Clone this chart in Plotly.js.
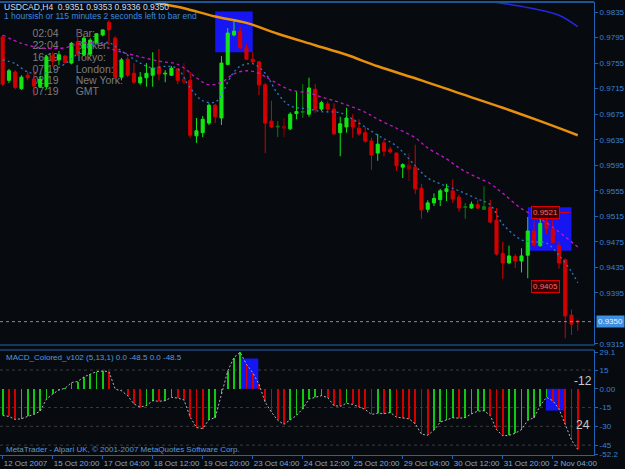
<!DOCTYPE html>
<html><head><meta charset="utf-8">
<script src="https://cdn.plot.ly/plotly-3.0.1.min.js"></script>
<style>html,body{margin:0;padding:0;background:#070b10;}#chart{width:625px;height:469px;}</style>
</head><body><div id="chart"></div>
<script>
// ---- candle data (USDCAD H4), bar index 0 = 12 Oct 2007 ----
const openP  = [0.9796,0.9728,0.9741,0.9715,0.9736,0.9730,0.9718,0.9718,0.9766,0.9760,0.9766,0.9755,0.9788,0.9768,0.9769,0.9786,0.9799,0.9819,0.9794,0.9733,
0.9761,0.9739,0.9724,0.9732,0.9736,0.9749,0.9738,0.9736,0.9746,0.9730,0.9728,0.9641,0.9646,0.9661,0.9689,0.9669,0.9753,0.9799,0.9805,0.9779,
0.9761,0.9757,0.9721,0.9664,0.9655,0.9656,0.9652,0.9676,0.9678,0.9675,0.9714,0.9683,0.9691,0.9683,0.9646,0.9655,0.9667,0.9653,0.9646,0.9633,
0.9614,0.9630,0.9620,0.9614,0.9592,0.9595,0.9592,0.9559,0.9526,0.9536,0.9541,0.9554,0.9555,0.9545,0.9529,0.9528,0.9533,0.9526,0.9529,0.9509,
0.9457,0.9442,0.9452,0.9445,0.9454,0.9492,0.9469,0.9506,0.9495,0.9469,0.9447,0.9360,0.9351];
const highP  = [0.9799,0.9746,0.9744,0.9736,0.9742,0.9744,0.9735,0.9768,0.9772,0.9774,0.9768,0.9788,0.9807,0.9797,0.9794,0.9802,0.9808,0.9822,0.9797,0.9763,
0.9765,0.9755,0.9741,0.9755,0.9772,0.9777,0.9744,0.9750,0.9747,0.9755,0.9741,0.9669,0.9672,0.9692,0.9691,0.9766,0.9810,0.9821,0.9812,0.9785,
0.9772,0.9758,0.9724,0.9696,0.9664,0.9669,0.9678,0.9710,0.9722,0.9732,0.9722,0.9696,0.9695,0.9692,0.9671,0.9685,0.9675,0.9667,0.9655,0.9638,
0.9644,0.9635,0.9624,0.9615,0.9598,0.9614,0.9627,0.9566,0.9540,0.9551,0.9558,0.9566,0.9573,0.9549,0.9536,0.9538,0.9541,0.9562,0.9541,0.9528,
0.9475,0.9469,0.9456,0.9465,0.9514,0.9508,0.9521,0.9513,0.9509,0.9475,0.9449,0.9369,0.9353];
const lowP   = [0.9719,0.9724,0.9714,0.9713,0.9728,0.9703,0.9716,0.9714,0.9750,0.9752,0.9755,0.9753,0.9766,0.9766,0.9766,0.9785,0.9797,0.9783,0.9732,0.9728,
0.9733,0.9722,0.9721,0.9718,0.9718,0.9728,0.9725,0.9735,0.9722,0.9722,0.9638,0.9630,0.9639,0.9658,0.9661,0.9658,0.9752,0.9797,0.9777,0.9760,
0.9755,0.9705,0.9614,0.9653,0.9639,0.9639,0.9650,0.9667,0.9669,0.9671,0.9677,0.9680,0.9678,0.9643,0.9609,0.9646,0.9638,0.9641,0.9630,0.9588,
0.9602,0.9609,0.9613,0.9586,0.9575,0.9570,0.9550,0.9511,0.9521,0.9531,0.9531,0.9539,0.9536,0.9522,0.9511,0.9527,0.9526,0.9525,0.9504,0.9454,
0.9417,0.9440,0.9434,0.9427,0.9418,0.9467,0.9467,0.9487,0.9473,0.9433,0.9324,0.9329,0.9336];
const closeP = [0.9722,0.9743,0.9717,0.9733,0.9732,0.9719,0.9730,0.9765,0.9758,0.9768,0.9756,0.9786,0.9769,0.9794,0.9791,0.9801,0.9807,0.9807,0.9733,0.9760,
0.9736,0.9725,0.9733,0.9739,0.9747,0.9738,0.9739,0.9747,0.9728,0.9725,0.9642,0.9649,0.9667,0.9689,0.9671,0.9755,0.9802,0.9805,0.9779,0.9761,
0.9757,0.9721,0.9661,0.9655,0.9656,0.9653,0.9675,0.9679,0.9679,0.9716,0.9682,0.9693,0.9683,0.9644,0.9660,0.9669,0.9655,0.9644,0.9633,0.9611,
0.9628,0.9617,0.9616,0.9594,0.9596,0.9589,0.9558,0.9525,0.9536,0.9543,0.9555,0.9558,0.9542,0.9528,0.9530,0.9534,0.9528,0.9530,0.9506,0.9456,
0.9442,0.9453,0.9445,0.9453,0.9492,0.9470,0.9504,0.9496,0.9474,0.9442,0.9359,0.9346,0.9350];
const dimBars = [29,44,45,48,65,74,77];

// ---- moving averages (bar index, price) ----
const fastMAIdx = [0,2,4,6,8,10,13,15,17,19,22,24,26,28,30,32,34,35,36,37,38,40,42,44,46,49,51,54,57,60,63,66,68,70,73,76,78,80,83,85,87,89,91,92];
const fastMAVal = [0.9760,0.9754,0.9741,0.9738,0.9743,0.9754,0.9777,0.9785,0.9787,0.9774,0.9755,0.9747,0.9750,0.9746,0.9716,0.9696,0.9694,0.9705,0.9725,0.9741,0.9750,0.9754,0.9739,0.9707,0.9688,0.9683,0.9679,0.9677,0.9661,0.9642,0.9625,0.9594,0.9575,0.9566,0.9555,0.9542,0.9533,0.9503,0.9478,0.9475,0.9473,0.9454,0.9428,0.9411];
const slowMAIdx = [0,3,6,10,12,15,18,22,25,28,31,33,35,37,39,41,43,46,49,51,54,58,60,63,66,68,71,73,75,78,80,83,86,88,92];
const slowMAVal = [0.9799,0.9786,0.9779,0.9779,0.9785,0.9786,0.9775,0.9765,0.9758,0.9753,0.9732,0.9721,0.9725,0.9738,0.9743,0.9739,0.9728,0.9713,0.9708,0.9702,0.9693,0.9678,0.9667,0.9653,0.9638,0.9622,0.9605,0.9591,0.9580,0.9566,0.9551,0.9527,0.9511,0.9498,0.9467];
const longMAIdx = [22,24,29,34,39,44,50,55,60,67,73,80,86,92];
const longMAVal = [0.9857,0.9851,0.9841,0.9828,0.9818,0.9801,0.9783,0.9768,0.9750,0.9728,0.9708,0.9685,0.9664,0.9642];
const topMAIdx = [75,77,81,85,89,92];
const topMAVal = [0.9858,0.9853,0.9847,0.9840,0.9830,0.9812];

// ---- MACD_Colored (5,13,1) histogram ----
const macdHist = [-21.3,-22.1,-24.5,-23.9,-22.1,-20.5,-17.9,-8.2,-4.2,-1.0,0.5,5.0,5.8,9.5,11.6,13.7,14.2,13.7,-0.3,-1.6,
-5.5,-12.1,-14.7,-13.4,-9.5,-10.0,-9.5,-6.8,-7.4,-8.9,-22.6,-31.0,-31.8,-24.7,-23.0,-4.2,14.2,25.0,29.1,19.5,
12.9,3.7,-10.8,-18.7,-25.2,-28.4,-24.7,-21.3,-16.0,-8.2,-6.8,-5.5,-7.0,-13.4,-14.0,-11.6,-12.5,-14.7,-16.5,-20.5,
-19.5,-19.8,-19.0,-22.6,-23.1,-24.0,-27.9,-36.3,-37.1,-33.1,-26.6,-24.7,-23.1,-23.5,-23.0,-20.0,-17.9,-17.5,-21.3,-32.6,
-37.6,-37.2,-35.5,-32.6,-25.2,-23.1,-13.4,-6.8,-9.5,-16.0,-27.9,-41.0,-48.5];
const macdLevels = [15,-15,-30,-45];
const macdNotes = [{text:'-12', v:6.3},{text:'24', v:-29.2}];

// ---- highlighted zones ----
const mainZones = [{x0:34,x1:40,y0:0.9772,y1:0.9836},{x0:84,x1:91,y0:0.9461,y1:0.9529}];
const macdZones = [{x0:38.1,x1:40.9,y0:0,y1:24.2},{x0:86.9,x1:90,y0:-17.4,y1:0}];
const priceMarks = [0.9521,0.9405];

// ---- axes ----
const tickIdx = [0,8,16,24,32,40,48,56,64,72,80,88];
const tickLabels = ['12 Oct 2007','15 Oct 20:00','17 Oct 04:00','18 Oct 12:00','19 Oct 20:00','23 Oct 04:00','24 Oct 12:00','25 Oct 20:00','29 Oct 04:00','30 Oct 12:00','31 Oct 20:00','2 Nov 04:00'];
const priceTicks = [0.9835,0.9795,0.9755,0.9715,0.9675,0.9635,0.9595,0.9555,0.9515,0.9475,0.9435,0.9395,0.9315];
const macdTicks = [29.1,15,0,-15,-30,-45,-52.2];
const macdTickLabels = ['29.1','15','0.00','-15','-30','-45','-52.2'];
const clockTimes = ['02:04','22:04','16:19','07:19','02:19','07:19'];
const clockNames = ['Bar:','Broker:','Tokyo:','London:','New York:','GMT'];

// ---------------------------------------------------------------
const n = openP.length;
const idx = openP.map((_, i) => i);
const isDim = i => dimBars.indexOf(i) >= 0;
function pick(arr, f){ return arr.filter((_, i) => f(i)); }

const GREEN = '#14e614', RED = '#d40000';
const candle = (f, up, dn) => ({
  type:'candlestick', xaxis:'x', yaxis:'y',
  x: pick(idx,f), open: pick(openP,f), high: pick(highP,f), low: pick(lowP,f), close: pick(closeP,f),
  increasing:{line:{color:up,width:1}, fillcolor:up},
  decreasing:{line:{color:dn,width:1}, fillcolor:dn},
  whiskerwidth:0, hoverinfo:'skip'
});

const macdColors = macdHist.map((v, i) => (i === 0 || v >= macdHist[i-1]) ? '#10c810' : '#d40000');

const traces = [
  candle(i => !isDim(i), GREEN, RED),
  candle(i => isDim(i), '#0a7d0a', '#8c0000'),
  {type:'scatter', mode:'lines', x:longMAIdx, y:longMAVal, line:{color:'#e8900c', width:2.5, shape:'spline'}, hoverinfo:'skip'},
  {type:'scatter', mode:'lines', x:topMAIdx, y:topMAVal, line:{color:'#2626dc', width:1.5, shape:'spline'}, hoverinfo:'skip'},
  {type:'scatter', mode:'lines', x:slowMAIdx, y:slowMAVal, line:{color:'#c414c4', width:1.3, dash:'3px,3px', shape:'spline'}, hoverinfo:'skip'},
  {type:'scatter', mode:'lines', x:fastMAIdx, y:fastMAVal, line:{color:'#2f78c8', width:1.3, dash:'2px,3px', shape:'spline'}, hoverinfo:'skip'},
  {type:'bar', x:idx, y:macdHist, xaxis:'x2', yaxis:'y2', width:0.26, marker:{color:macdColors, line:{width:0}}, hoverinfo:'skip'},
  {type:'scatter', mode:'lines', x:idx, y:macdHist, xaxis:'x2', yaxis:'y2', line:{color:'#b4b4b4', width:1, dash:'2px,2px'}, hoverinfo:'skip'}
];

// plot area: top 2px, bottom 455px, height 453
const py = ypx => (455 - ypx) / 453;
const px = xpx => xpx / 594;
const AX = '#2062b4', TXT = '#3d80d2', FONT = 'Liberation Sans, Arial, sans-serif';

const shapes = [];
mainZones.forEach(z => shapes.push({type:'rect', xref:'x', yref:'y', x0:z.x0, x1:z.x1, y0:z.y0, y1:z.y1, fillcolor:'#1616f2', line:{width:0}, layer:'below'}));
macdZones.forEach(z => shapes.push({type:'rect', xref:'x2', yref:'y2', x0:z.x0, x1:z.x1, y0:z.y0, y1:z.y1, fillcolor:'#1616f2', line:{width:0}, layer:'below'}));
macdLevels.forEach(v => shapes.push({type:'line', xref:'paper', yref:'y2', x0:0, x1:1, y0:v, y1:v, line:{color:'#3c3c3c', width:1, dash:'dot'}, layer:'below'}));
shapes.push({type:'line', xref:'paper', yref:'y', x0:0, x1:1, y0:closeP[n-1], y1:closeP[n-1], line:{color:'#8a8a8a', width:1, dash:'dot'}});
shapes.push({type:'line', xref:'x', yref:'y', x0:88.7, x1:90.8, y0:priceMarks[0], y1:priceMarks[0], line:{color:'#e00000', width:1}});
shapes.push({type:'line', xref:'paper', yref:'y domain', x0:0, x1:1, y0:1, y1:1, line:{color:'#1c5494', width:2}});
shapes.push({type:'line', xref:'paper', yref:'y domain', x0:0, x1:1, y0:0, y1:0, line:{color:AX, width:1}});
shapes.push({type:'line', xref:'paper', yref:'y2 domain', x0:0, x1:1, y0:1, y1:1, line:{color:AX, width:1}});

// clock block drawn behind the candles (shape labels on the lower layer)
const clockY = [32.3,44,56,68.3,79.3,90];
const clockFont = {family:FONT, size:10.5, color:'#7c7c7c'};
clockTimes.forEach((t, i) => {
  shapes.push({type:'rect', xref:'paper', yref:'paper', x0:px(30), x1:px(61.7), y0:py(clockY[i]+5), y1:py(clockY[i]-5),
    line:{width:0}, fillcolor:'rgba(0,0,0,0)', layer:'below', label:{text:t, textposition:'middle right', padding:0, font:clockFont}});
  shapes.push({type:'rect', xref:'paper', yref:'paper', x0:px(72.7), x1:px(130), y0:py(clockY[i]+5), y1:py(clockY[i]-5),
    line:{width:0}, fillcolor:'rgba(0,0,0,0)', layer:'below', label:{text:clockNames[i], textposition:'middle left', padding:0, font:clockFont}});
});

const annotations = [];
const hdr = (text, ypx, color) => annotations.push({xref:'paper', yref:'paper', x:0.004, y:py(ypx), xanchor:'left', yanchor:'middle', text, showarrow:false, font:{family:FONT, size:8.5, color}});
hdr('USDCAD,H4  ' + [openP[n-1], highP[n-1], lowP[n-1], closeP[n-1]].map(v => v.toFixed(4)).join(' '), 7, '#d2deea');
hdr('1 hoursish or 115 minutes 2 seconds left to bar end', 16, '#3a8ade');
annotations.push({xref:'paper', yref:'paper', x:0.007, y:py(357), xanchor:'left', yanchor:'middle', text:'MACD_Colored_v102 (5,13,1) 0.0 ' + macdHist[n-1].toFixed(1) + ' 0.0 ' + macdHist[n-1].toFixed(1), showarrow:false, font:{family:FONT, size:8, color:'#5a9ad8'}});
annotations.push({xref:'paper', yref:'paper', x:0.007, y:py(449), xanchor:'left', yanchor:'middle', text:'MetaTrader - Alpari UK, © 2001-2007 MetaQuotes Software Corp.', showarrow:false, font:{family:FONT, size:8, color:'#5a9ad8'}});
macdNotes.forEach(m => annotations.push({xref:'x2', yref:'y2', x:92.8, y:m.v, xanchor:'center', yanchor:'middle', text:m.text, showarrow:false, font:{family:FONT, size:12, color:'#c8c8c8'}}));
annotations.push({xref:'paper', yref:'y', x:1.003, y:closeP[n-1], xanchor:'left', yanchor:'middle', text:closeP[n-1].toFixed(4), showarrow:false, bgcolor:'#3f8fe2', borderpad:1, font:{family:FONT, size:8, color:'#eaf4ff'}});
priceMarks.forEach(p => annotations.push({xref:'x', yref:'y', x:86.8, y:p, xanchor:'center', yanchor:'middle', text:p.toFixed(4), showarrow:false, bgcolor:'#3a0000', bordercolor:'#e00000', borderwidth:1, borderpad:1, font:{family:FONT, size:8, color:'#ff6a6a'}}));

const yCommon = {side:'right', showgrid:false, zeroline:false, showline:true, linecolor:AX, linewidth:1,
  ticks:'outside', ticklen:3, tickcolor:AX, tickfont:{family:FONT, size:8, color:TXT}, automargin:false, fixedrange:true};

const layout = {
  width:625, height:469, margin:{l:0, r:31, t:2, b:14},
  paper_bgcolor:'#070b10', plot_bgcolor:'#070b10', showlegend:false, bargap:0,
  xaxis:{domain:[0,1], range:[-0.43,94.6], anchor:'y', showticklabels:false, ticks:'', showgrid:false, zeroline:false, rangeslider:{visible:false}, fixedrange:true},
  xaxis2:{domain:[0,1], range:[-0.43,94.6], anchor:'y2', tickvals:tickIdx, ticktext:tickLabels, ticks:'outside', ticklen:3, tickcolor:AX, tickangle:0,
    ticklabelposition:'outside right', ticklabelstandoff:0, tickfont:{family:FONT, size:8, color:'#7fa8d8'}, showgrid:false, zeroline:false,
    showline:true, linecolor:AX, automargin:false, fixedrange:true},
  yaxis:Object.assign({domain:[py(345),1], range:[0.93134,0.98507], anchor:'x', tickvals:priceTicks, ticktext:priceTicks.map(v => v.toFixed(4))}, yCommon),
  yaxis2:Object.assign({domain:[0,py(350)], range:[-52.9,31.0], anchor:'x2', tickvals:macdTicks, ticktext:macdTickLabels}, yCommon),
  shapes, annotations
};

Plotly.newPlot('chart', traces, layout, {staticPlot:true, displayModeBar:false});
</script></body></html>
